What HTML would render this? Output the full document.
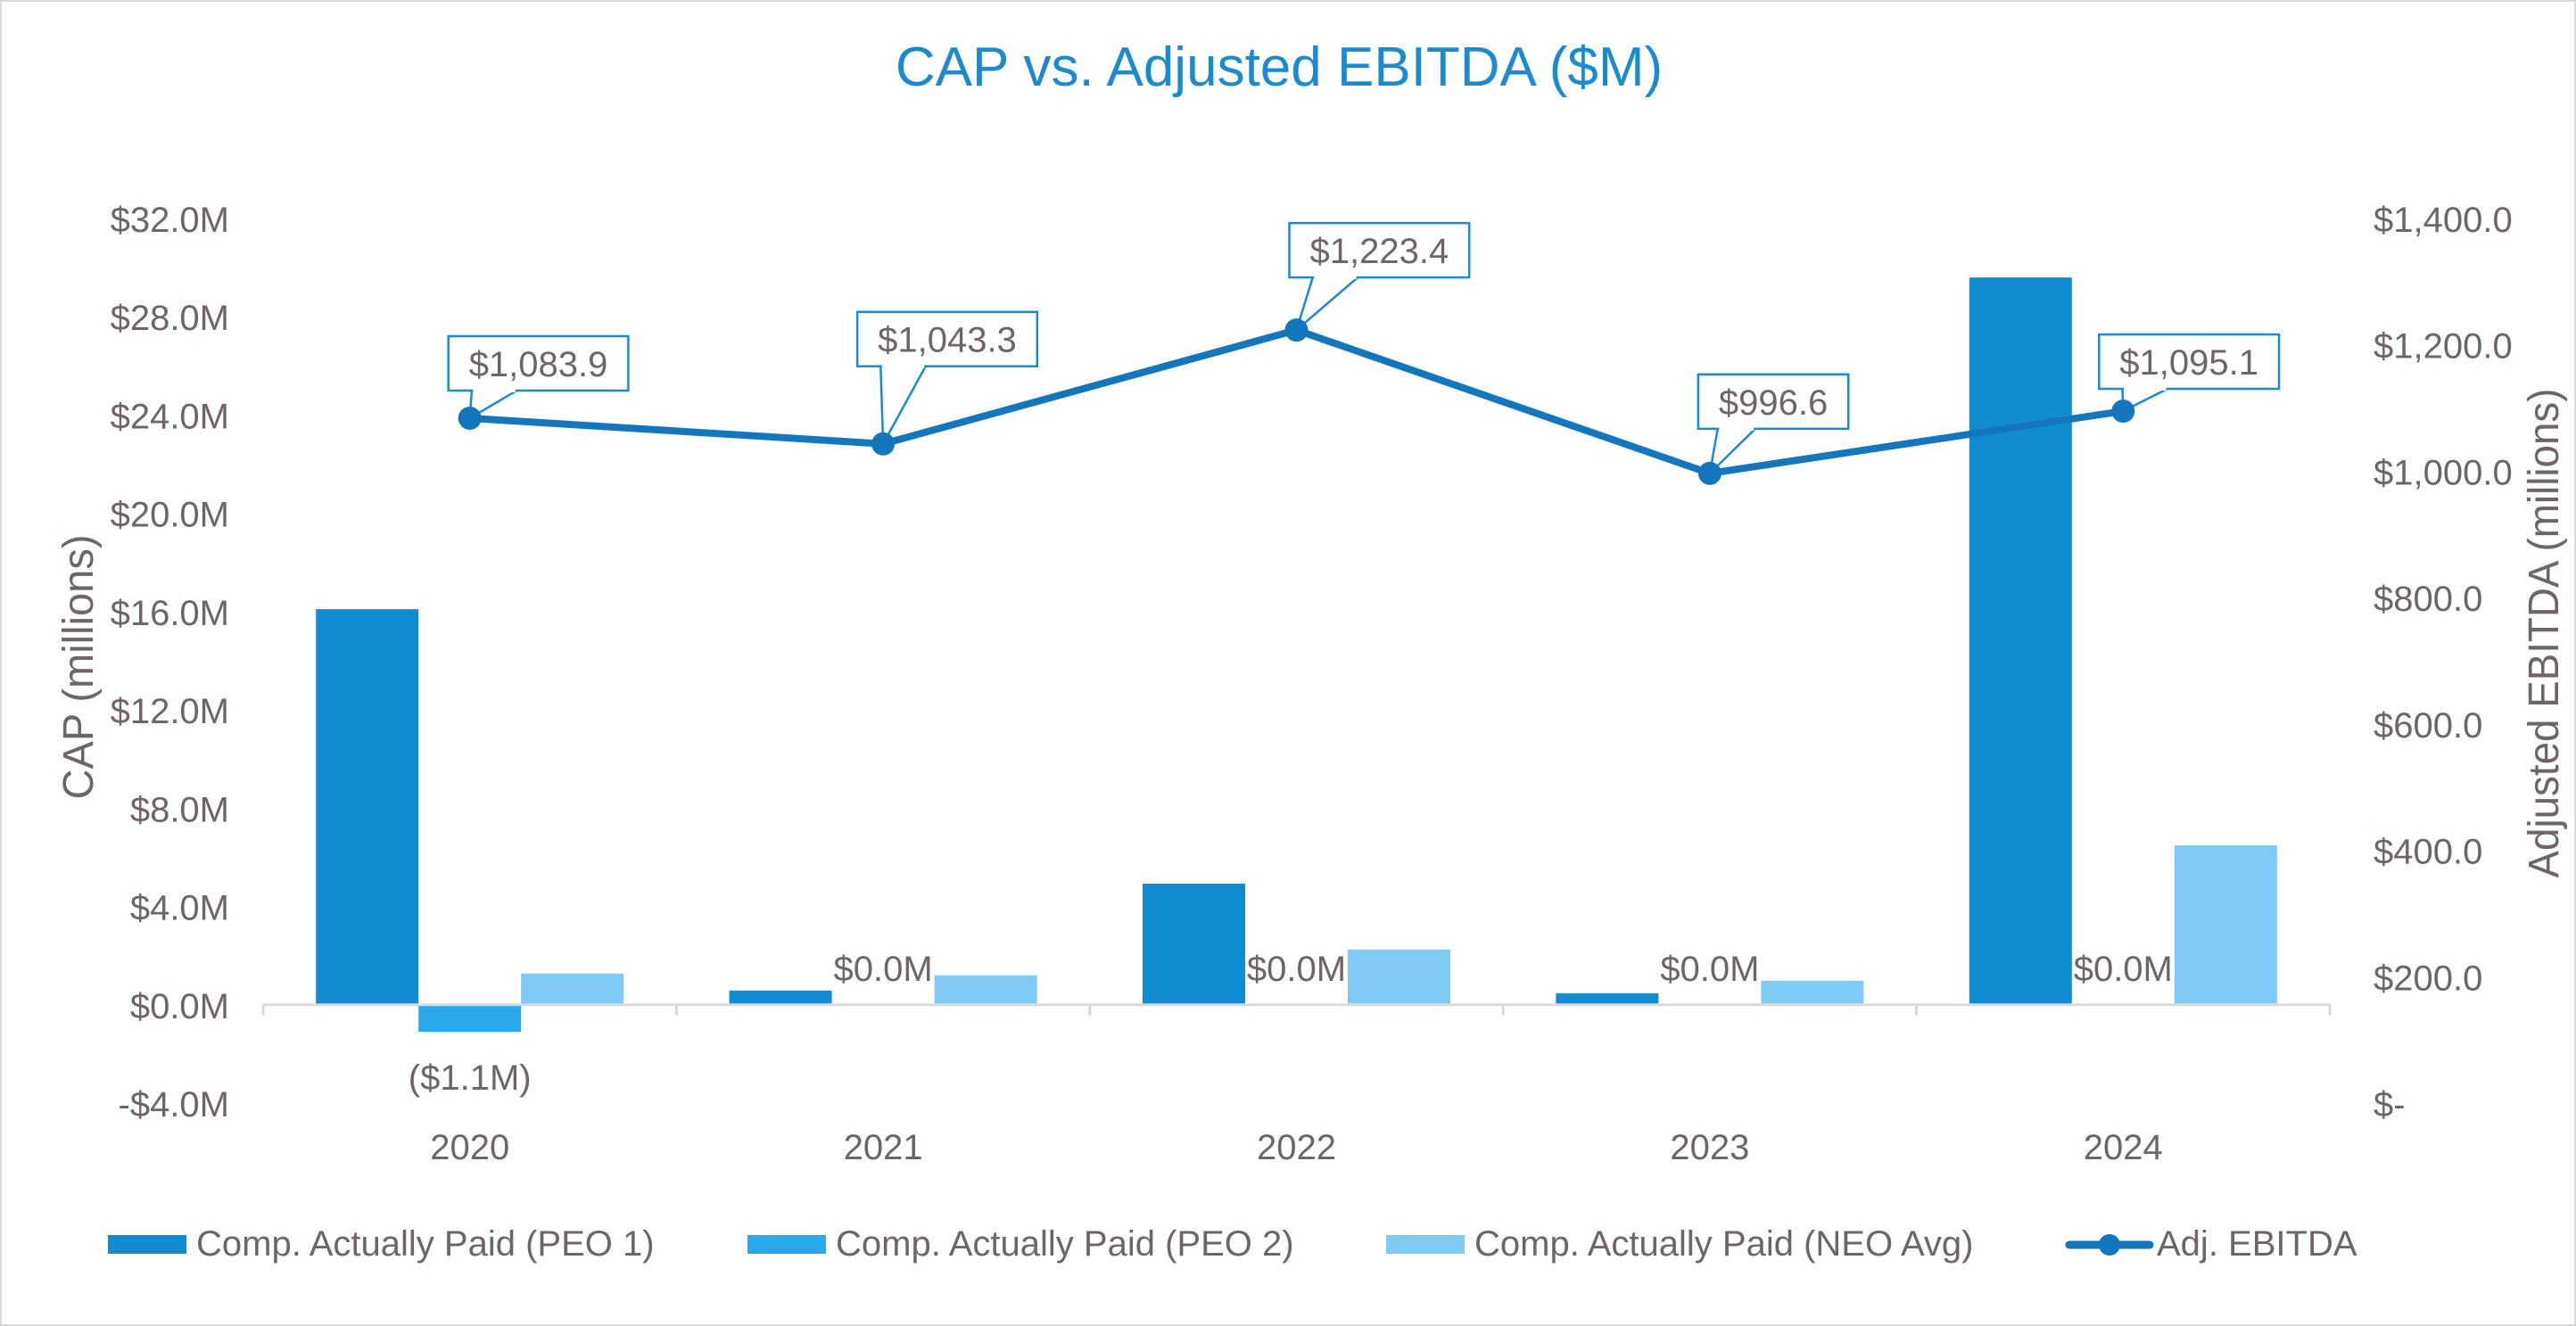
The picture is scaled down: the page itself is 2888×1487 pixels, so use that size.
<!DOCTYPE html>
<html><head><meta charset="utf-8"><style>
html,body{margin:0;padding:0;background:#fff}
svg{display:block}
text{font-family:"Liberation Sans",sans-serif;fill:#6f6568}
</style></head><body>
<svg id="chart" width="2888" height="1487" viewBox="0 0 2888 1487" xmlns="http://www.w3.org/2000/svg">
<rect x="1" y="1" width="2886" height="1485" fill="#fff" stroke="#d9d9d9" stroke-width="2"/>
<text x="1434" y="96" text-anchor="middle" font-size="62" style="fill:#1a8bd0">CAP vs. Adjusted EBITDA ($M)</text>
<text transform="translate(104,748) rotate(-90)" text-anchor="middle" font-size="48" textLength="297" lengthAdjust="spacingAndGlyphs">CAP (millions)</text>
<text transform="translate(2868,710) rotate(-90)" text-anchor="middle" font-size="48" textLength="549" lengthAdjust="spacingAndGlyphs">Adjusted EBITDA (millions)</text>
<g id="g"></g>
</svg>
<script>
const categories=["2020","2021","2022","2023","2024"];
const peo1=[16.1,0.58,4.93,0.47,29.6];
const peo2=[-1.1,0,0,0,0];
const neoAvg=[1.27,1.2,2.25,0.98,6.49];
const ebitda=[1083.9,1043.3,1223.4,996.6,1095.1];
const leftTicks=[-4,0,4,8,12,16,20,24,28,32];
const rightTicks=[0,200,400,600,800,1000,1200,1400];
const ebitdaLabels=["$1,083.9","$1,043.3","$1,223.4","$996.6","$1,095.1"];

const NS="http://www.w3.org/2000/svg";
const g=document.getElementById('g');
const X0=295,X1=2612,TOP=245,BOT=1237;
const bw=(X1-X0)/categories.length;
const yL=v=>BOT-(v+4)/36*(BOT-TOP);
const yR=v=>BOT-v/1400*(BOT-TOP);
const xC=i=>X0+bw*(i+0.5);
function el(t,a,p){const e=document.createElementNS(NS,t);for(const k in a)e.setAttribute(k,a[k]);(p||g).appendChild(e);return e;}
function fmtL(v){return (v<0?"-$":"$")+Math.abs(v).toFixed(1)+"M";}
function fmtR(v){return v===0?"$-":"$"+v.toLocaleString("en-US",{minimumFractionDigits:1});}

leftTicks.forEach(v=>{const t=el('text',{x:257,y:yL(v)+15,'text-anchor':'end','font-size':40});t.textContent=fmtL(v);

});
rightTicks.forEach(v=>{const t=el('text',{x:2661,y:yR(v)+15,'font-size':40});t.textContent=fmtR(v);

});

const barW=115;
const series=[[peo1,'#118cd3','peo1'],[peo2,'#29a8ec','peo2'],[neoAvg,'#7fcbf5','neo-avg']];
categories.forEach((c,i)=>{
  series.forEach((s,k)=>{
    const v=s[0][i];const x=xC(i)-1.5*barW+k*barW;
    const y0=yL(0),y1=yL(v);
    if(v!==0){const r=el('rect',{x:x,y:Math.min(y0,y1),width:barW,height:Math.abs(y1-y0),fill:s[1]});
    
    }
  });
  const v2=peo2[i];const lx=xC(i);
  const lt=el('text',{x:lx,y:v2<0?1222:yL(v2)-27,'text-anchor':'middle','font-size':40});
  lt.textContent=v2<0?"($"+Math.abs(v2).toFixed(1)+"M)":"$"+v2.toFixed(1)+"M";
  
  
  const yt=el('text',{x:xC(i),y:1300,'text-anchor':'middle','font-size':40});yt.textContent=c;
  
  
});
const ax=el('line',{x1:X0,y1:yL(0),x2:X1,y2:yL(0),stroke:'#d9d9d9','stroke-width':3});


for(let i=0;i<=categories.length;i++){const tk=el('line',{x1:X0+bw*i,y1:yL(0),x2:X0+bw*i,y2:yL(0)+12,stroke:'#d9d9d9','stroke-width':3});

}

const pts=ebitda.map((v,i)=>[xC(i),yR(v)]);
const pl=el('polyline',{points:pts.map(p=>p.join(',')).join(' '),fill:'none',stroke:'#1476bd','stroke-width':8,'stroke-linejoin':'round'});


const boxOff=[[-24,-87],[-29,-143],[-8,-115],[-13,-106],[-27,-81]];
pts.forEach((p,i)=>{
  const [px,py]=p;
  const grp=el('g',{});
  const t=el('text',{x:0,y:0,'font-size':40},grp);t.textContent=ebitdaLabels[i];
  const w=t.getComputedTextLength()+46,h=61;
  const bx=px+boxOff[i][0],by=py+boxOff[i][1]-5;
  grp.removeChild(t);
  const ptr=el('polygon',{points:`${bx+w*0.13},${by+h} ${px},${py} ${bx+w*0.38},${by+h}`,fill:'#fff',stroke:'#1a8bd0','stroke-width':2.5});
  
  
  const r=el('rect',{x:bx,y:by,width:w,height:h,fill:'#fff',stroke:'#1a8bd0','stroke-width':2.5});
  
  
  el('line',{x1:bx+w*0.13+1.5,y1:by+h,x2:bx+w*0.38-1.5,y2:by+h,stroke:'#fff','stroke-width':4});
  const tt=el('text',{x:bx+w/2,y:by+45,'text-anchor':'middle','font-size':40});tt.textContent=ebitdaLabels[i];
  
  
  const c=el('circle',{cx:px,cy:py,r:13,fill:'#1476bd'});
  
  
});

const leg=[[121,'#118cd3','Comp. Actually Paid (PEO 1)','legend-peo1'],[838,'#29a8ec','Comp. Actually Paid (PEO 2)','legend-peo2'],[1554,'#7fcbf5','Comp. Actually Paid (NEO Avg)','legend-neo-avg']];
leg.forEach(l=>{
  const r=el('rect',{x:l[0],y:1385,width:88,height:21,fill:l[1]});
  
  
  const t=el('text',{x:l[0]+99,y:1408,'font-size':40});t.textContent=l[2];
  
  
});
const ll=el('line',{x1:2320,y1:1396,x2:2410,y2:1396,stroke:'#1476bd','stroke-width':9,'stroke-linecap':'round'});


const lc=el('circle',{cx:2365,cy:1396,r:12,fill:'#1476bd'});


const lt2=el('text',{x:2418,y:1408,'font-size':40});lt2.textContent='Adj. EBITDA';


</script>
</body></html>
